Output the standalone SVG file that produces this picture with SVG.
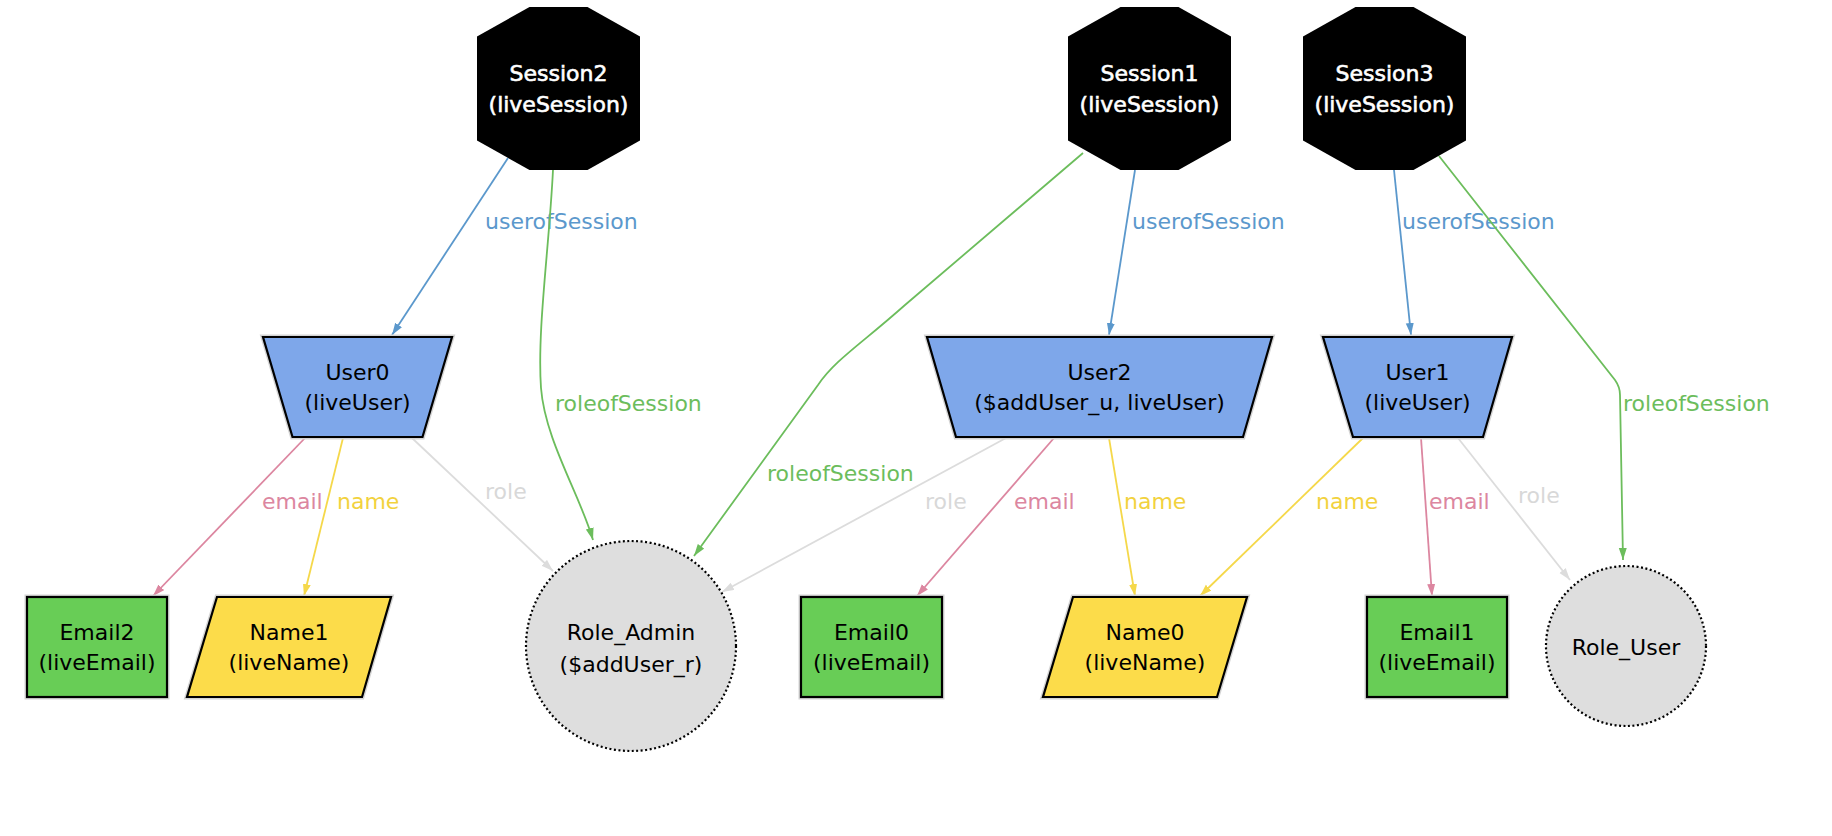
<svg xmlns="http://www.w3.org/2000/svg" width="1832" height="836" viewBox="0 0 1832 836">
<style>
text{font-family:"DejaVu Sans","Noto Sans",sans-serif;font-size:22px;}
.nt{fill:#000;text-anchor:middle;}
.st{fill:#fff;text-anchor:middle;stroke:#fff;stroke-width:0.6px;}
.sess{fill:#000;}
.user{fill:#7ea7ea;stroke:#000;stroke-width:2.2;}
.email{fill:#68cd56;stroke:#000;stroke-width:2.2;}
.name{fill:#fcdc4a;stroke:#000;stroke-width:2.2;}
.role{fill:#dedede;stroke:#000;stroke-width:2.2;stroke-dasharray:2 2.5;}
.halo{fill:none;stroke:#d4d4d4;stroke-width:5;}
.e{fill:none;stroke-width:1.8;}
.eb{stroke:#5b98cc;} .eg{stroke:#6cbd5c;} .ep{stroke:#dc86a0;} .ey{stroke:#f5d84a;} .er{stroke:#dcdcdc;}
.lb{fill:#5b98cc;} .lg{fill:#6cbd5c;} .lp{fill:#dc86a0;} .ly{fill:#f2d23e;} .lr{fill:#d8d8d8;}
</style>
<defs>
<marker id="ab" markerUnits="userSpaceOnUse" markerWidth="12" markerHeight="9" refX="12" refY="4" orient="auto"><path d="M0,0 L12,4 L0,8 z" fill="#5b98cc"/></marker>
<marker id="ag" markerUnits="userSpaceOnUse" markerWidth="12" markerHeight="9" refX="12" refY="4" orient="auto"><path d="M0,0 L12,4 L0,8 z" fill="#6cbd5c"/></marker>
<marker id="ap" markerUnits="userSpaceOnUse" markerWidth="12" markerHeight="9" refX="12" refY="4" orient="auto"><path d="M0,0 L12,4 L0,8 z" fill="#dc86a0"/></marker>
<marker id="ay" markerUnits="userSpaceOnUse" markerWidth="12" markerHeight="9" refX="12" refY="4" orient="auto"><path d="M0,0 L12,4 L0,8 z" fill="#f5d84a"/></marker>
<marker id="ar" markerUnits="userSpaceOnUse" markerWidth="12" markerHeight="9" refX="12" refY="4" orient="auto"><path d="M0,0 L12,4 L0,8 z" fill="#dcdcdc"/></marker>
</defs>
<rect width="1832" height="836" fill="#fff"/>

<g id="connectors">
<path class="e eb" d="M508,158 L392,335" marker-end="url(#ab)"/>
<text class="lb" x="485" y="229">userofSession</text>
<path class="e eg" d="M553,170 C549,250 537,330 541,388 C545,440 580,495 593,540" marker-end="url(#ag)"/>
<text class="lg" x="555" y="411">roleofSession</text>
<path class="e eg" d="M1083,153 L905,305 C860,345 835,360 818,385 L694,556" marker-end="url(#ag)"/>
<text class="lg" x="767" y="481">roleofSession</text>
<path class="e eb" d="M1135,170 L1109,335" marker-end="url(#ab)"/>
<text class="lb" x="1132" y="229">userofSession</text>
<path class="e eb" d="M1394,170 L1411,335" marker-end="url(#ab)"/>
<text class="lb" x="1402" y="229">userofSession</text>
<path class="e eg" d="M1439,156 L1615,380 Q1620,387 1620,395 L1623,560" marker-end="url(#ag)"/>
<text class="lg" x="1623" y="411">roleofSession</text>
<path class="e ep" d="M305,438 L153,596" marker-end="url(#ap)"/>
<text class="lp" x="262" y="509">email</text>
<path class="e ey" d="M343,438 L304,596" marker-end="url(#ay)"/>
<text class="ly" x="337" y="509">name</text>
<path class="e er" d="M412,438 L553,571" marker-end="url(#ar)"/>
<text class="lr" x="485" y="499">role</text>
<path class="e er" d="M1006,438 L722,592" marker-end="url(#ar)"/>
<text class="lr" x="925" y="509">role</text>
<path class="e ep" d="M1054,438 L917,596" marker-end="url(#ap)"/>
<text class="lp" x="1014" y="509">email</text>
<path class="e ey" d="M1109,438 L1135,596" marker-end="url(#ay)"/>
<text class="ly" x="1124" y="509">name</text>
<path class="e ey" d="M1363,438 L1200,596" marker-end="url(#ay)"/>
<text class="ly" x="1316" y="509">name</text>
<path class="e ep" d="M1421,438 L1432,596" marker-end="url(#ap)"/>
<text class="lp" x="1429" y="509">email</text>
<path class="e er" d="M1458,438 L1570,580" marker-end="url(#ar)"/>
<text class="lr" x="1518" y="503">role</text>
</g>

<g id="Session2">
<polygon class="sess" points="529.5,7 587.5,7 640,36.5 640,140.5 587.5,170 529.5,170 477,140.5 477,36.5"/>
<text class="st" x="558.5" y="81">Session2</text>
<text class="st" x="558.5" y="112">(liveSession)</text>
</g>
<g id="Session1">
<polygon class="sess" points="1120.5,7 1178.5,7 1231,36.5 1231,140.5 1178.5,170 1120.5,170 1068,140.5 1068,36.5"/>
<text class="st" x="1149.5" y="81">Session1</text>
<text class="st" x="1149.5" y="112">(liveSession)</text>
</g>
<g id="Session3">
<polygon class="sess" points="1355.5,7 1413.5,7 1466,36.5 1466,140.5 1413.5,170 1355.5,170 1303,140.5 1303,36.5"/>
<text class="st" x="1384.5" y="81">Session3</text>
<text class="st" x="1384.5" y="112">(liveSession)</text>
</g>

<g id="User0">
<polygon class="halo" points="263,337 452,337 422.5,437 292.5,437"/>
<polygon class="user" points="263,337 452,337 422.5,437 292.5,437"/>
<text class="nt" x="357.5" y="380">User0</text>
<text class="nt" x="357.5" y="410">(liveUser)</text>
</g>
<g id="User2">
<polygon class="halo" points="927,337 1272,337 1243,437 956,437"/>
<polygon class="user" points="927,337 1272,337 1243,437 956,437"/>
<text class="nt" x="1099.5" y="380">User2</text>
<text class="nt" x="1099.5" y="410">($addUser_u, liveUser)</text>
</g>
<g id="User1">
<polygon class="halo" points="1323,337 1512,337 1483,437 1353,437"/>
<polygon class="user" points="1323,337 1512,337 1483,437 1353,437"/>
<text class="nt" x="1417.5" y="380">User1</text>
<text class="nt" x="1417.5" y="410">(liveUser)</text>
</g>

<g id="Email2">
<rect class="halo" x="27" y="597" width="140" height="100"/>
<rect class="email" x="27" y="597" width="140" height="100"/>
<text class="nt" x="97" y="640">Email2</text>
<text class="nt" x="97" y="670">(liveEmail)</text>
</g>
<g id="Name1">
<polygon class="halo" points="217,597 391,597 362,697 187,697"/>
<polygon class="name" points="217,597 391,597 362,697 187,697"/>
<text class="nt" x="289" y="640">Name1</text>
<text class="nt" x="289" y="670">(liveName)</text>
</g>
<g id="Role_Admin">
<circle class="role" cx="631" cy="646" r="105"/>
<text class="nt" x="631" y="640">Role_Admin</text>
<text class="nt" x="631" y="672">($addUser_r)</text>
</g>
<g id="Email0">
<rect class="halo" x="801" y="597" width="141" height="100"/>
<rect class="email" x="801" y="597" width="141" height="100"/>
<text class="nt" x="871.5" y="640">Email0</text>
<text class="nt" x="871.5" y="670">(liveEmail)</text>
</g>
<g id="Name0">
<polygon class="halo" points="1073,597 1247,597 1217,697 1043,697"/>
<polygon class="name" points="1073,597 1247,597 1217,697 1043,697"/>
<text class="nt" x="1145" y="640">Name0</text>
<text class="nt" x="1145" y="670">(liveName)</text>
</g>
<g id="Email1">
<rect class="halo" x="1367" y="597" width="140" height="100"/>
<rect class="email" x="1367" y="597" width="140" height="100"/>
<text class="nt" x="1437" y="640">Email1</text>
<text class="nt" x="1437" y="670">(liveEmail)</text>
</g>
<g id="Role_User">
<circle class="role" cx="1626" cy="646" r="80"/>
<text class="nt" x="1626" y="655">Role_User</text>
</g>
</svg>
